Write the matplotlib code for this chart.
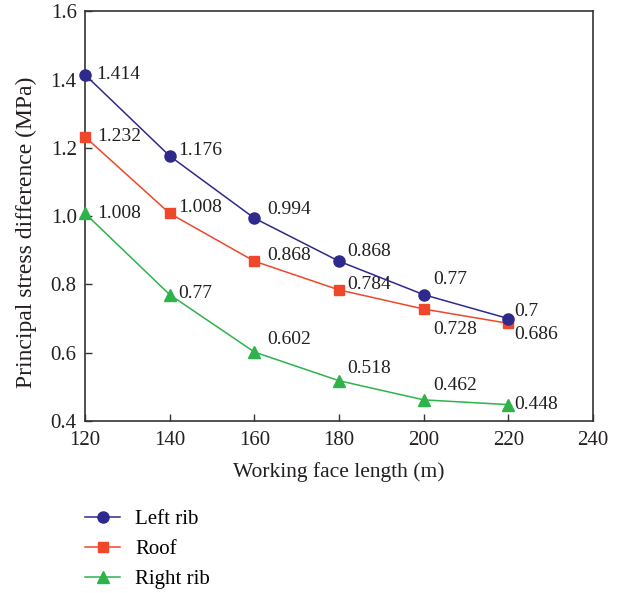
import matplotlib.pyplot as plt
import numpy as np

# Data
lengths = [120, 140, 160, 180, 200, 220]
left_rib = [1.414, 1.176, 0.994, 0.868, 0.77, 0.7]
roof = [1.232, 1.008, 0.868, 0.784, 0.728, 0.686]
right_rib = [1.008, 0.77, 0.602, 0.518, 0.462, 0.448]

plt.rcParams['font.family'] = ['Liberation Serif', 'DejaVu Serif']
plt.rcParams['font.size'] = 15

fig = plt.figure(figsize=(6.21, 5.93), dpi=100)
ax = fig.add_axes([0.137, 0.290, 0.818, 0.691])

ax.plot(lengths, left_rib, color='#2e2a8c', marker='o', markersize=8, lw=1.1,
        label='Left rib', clip_on=False, zorder=4)
ax.plot(lengths, roof, color='#f0462a', marker='s', markersize=7.5, lw=1.1,
        label='Roof', clip_on=False, zorder=3)
ax.plot(lengths, right_rib, color='#2db34a', marker='^', markersize=9, lw=1.1,
        label='Right rib', clip_on=False, zorder=3)

# value labels, offsets in points from each marker
offs_left = [(8, 0), (6, 4), (9, 6), (6, 7), (6.5, 11), (4, 5)]
offs_roof = [(9, 0), (6, 4), (9, 4), (6, 4), (6.5, -15), (4, -8)]
offs_right = [(9, 0), (6, 1), (9, 9), (6, 9), (6.5, 10), (4, 0)]
for series, offs in [(left_rib, offs_left), (roof, offs_roof), (right_rib, offs_right)]:
    for x, y, o in zip(lengths, series, offs):
        ax.annotate(f'{y:g}', (x, y), xytext=o, textcoords='offset points',
                    ha='left', va='center', fontsize=14, color='#231f20')

ax.set_xlim(120, 240)
ax.set_ylim(0.4, 1.6)
ax.set_xticks(np.arange(120, 241, 20))
ax.set_yticks(np.arange(0.4, 1.61, 0.2))
ax.yaxis.set_major_formatter(plt.FormatStrFormatter('%.1f'))
ax.tick_params(direction='in', length=5, width=1, colors='#333333',
               labelcolor='#231f20', labelsize=15)
ax.tick_params(axis='x', pad=7)
ax.tick_params(axis='y', pad=6)
for sp in ax.spines.values():
    sp.set_color('#333333')
    sp.set_linewidth(1.2)

ax.set_xlabel('Working face length (m)', fontsize=15.5, color='#231f20', labelpad=9)
ax.set_ylabel('Principal stress difference (MPa)', fontsize=17, color='#231f20',
              va='center')
ax.yaxis.set_label_coords(-0.116, 0.461)

fig.legend(loc='upper left', bbox_to_anchor=(0.137, 0.141), frameon=False,
           fontsize=15, handlelength=1.7, labelspacing=0.5, handletextpad=0.72,
           borderpad=0, borderaxespad=0)

fig.savefig('out.png', dpi=100)
